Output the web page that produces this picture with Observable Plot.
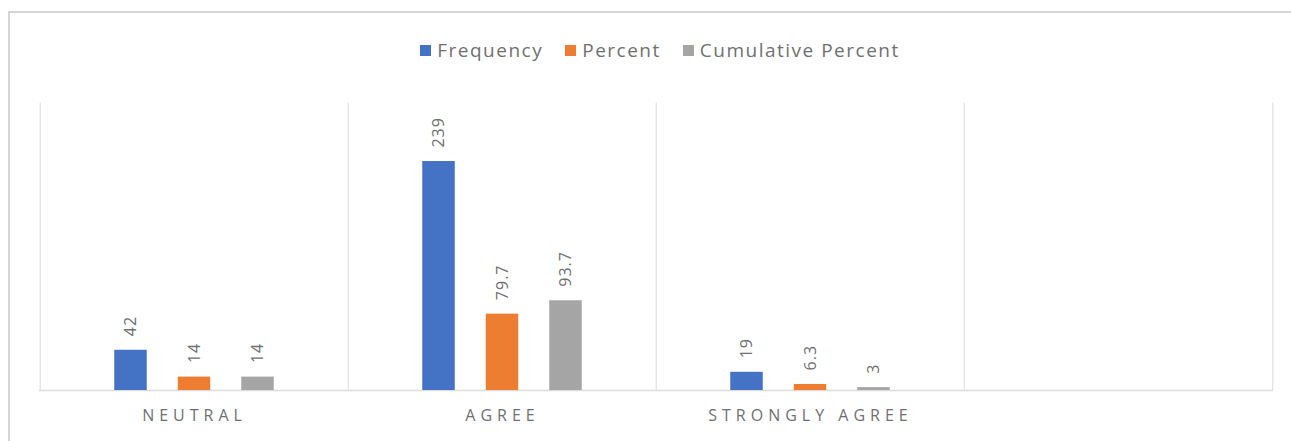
<!DOCTYPE html>
<html>
<head>
<meta charset="utf-8">
<script src="https://cdn.jsdelivr.net/npm/d3@7"></script>
<script src="https://cdn.jsdelivr.net/npm/@observablehq/plot@0.6"></script>
<style>
  html, body { margin: 0; padding: 0; background: #fff; overflow: hidden; width: 1291px; height: 441px; }
  #frame { position: absolute; left: 8px; top: 11px; width: 1300px; height: 440px;
           border-left: 2px solid #d6d6d6; border-top: 2px solid #d6d6d6; }
  #legend { position: absolute; left: 0; top: 37px; width: 1320px; display: flex; justify-content: center;
            gap: 22px; font-family: "Open Sans", sans-serif; font-size: 19px; color: #707070; letter-spacing: 1.5px; }
  #legend .item { display: flex; align-items: center; gap: 6px; }
  #legend .sw { width: 11px; height: 11px; display: inline-block; }
  #chart { position: absolute; left: 0; top: 80px; }
  #chart svg [aria-label="x-axis tick label"] text { letter-spacing: 5px; }
  #chart svg [aria-label="text"] text { letter-spacing: 1px; }
</style>
</head>
<body>
<div id="frame"></div>
<div id="legend"></div>
<div id="chart"></div>
<script>
const categories = ["NEUTRAL", "AGREE", "STRONGLY AGREE", ""];
const seriesNames = ["Frequency", "Percent", "Cumulative Percent"];
const seriesColors = ["#4472C4", "#ED7D31", "#A5A5A5"];
const frequency = [42, 239, 19];
const percent = [14, 79.7, 6.3];
const cumulative = [14, 93.7, 3];
const yDomain = [0, 300];

const seriesValues = [frequency, percent, cumulative];
const rows = [];
seriesNames.forEach((s, i) => {
  seriesValues[i].forEach((v, j) => rows.push({category: categories[j], series: s, value: v}));
});

// legend
const legend = document.getElementById("legend");
seriesNames.forEach((s, i) => {
  const it = document.createElement("span");
  it.className = "item";
  it.innerHTML = `<span class="sw" style="background:${seriesColors[i]}"></span><span>${s}</span>`;
  legend.appendChild(it);
});

const W = 1291, H = 361, ML = 39, MR = 18, MT = 22.6, MB = 51;
const bw = (W - ML - MR) / categories.length;
const barW = 33, step = 63.5;
const inset = (bw - barW) / 2;

const marks = [];
// vertical separators at band edges
marks.push(Plot.ruleX(categories, {x: d => d, y1: yDomain[0], y2: yDomain[1], dx: -bw / 2, stroke: "#e3e3e3", strokeWidth: 1.3}));
marks.push(Plot.ruleX(categories.slice(-1), {x: d => d, y1: yDomain[0], y2: yDomain[1], dx: bw / 2, stroke: "#e3e3e3", strokeWidth: 1.3}));
marks.push(Plot.ruleY([0], {stroke: "#dcdcdc", strokeWidth: 1.5}));
seriesNames.forEach((s, i) => {
  const data = rows.filter(r => r.series === s);
  const off = (i - 1) * step;
  marks.push(Plot.barY(data, {x: "category", y: "value", fill: seriesColors[i], insetLeft: inset, insetRight: inset, dx: off}));
  marks.push(Plot.text(data, {x: "category", y: "value", text: d => String(d.value), rotate: -90, textAnchor: "start",
    dx: off, dy: -14, fill: "#707070", fontSize: 16, fontFamily: "Open Sans"}));
});
marks.push(Plot.axisX({tickSize: 0, tickPadding: 19, fontSize: 16, fill: "#707070", fontFamily: "Open Sans"}));

const chart = Plot.plot({
  width: W, height: H, marginLeft: ML, marginRight: MR, marginTop: MT, marginBottom: MB,
  x: {type: "band", domain: categories, padding: 0, label: null},
  y: {domain: yDomain, axis: null},
  style: {fontFamily: "Open Sans", background: "transparent", color: "#707070"},
  marks
});
document.getElementById("chart").appendChild(chart);
</script>
</body>
</html>
